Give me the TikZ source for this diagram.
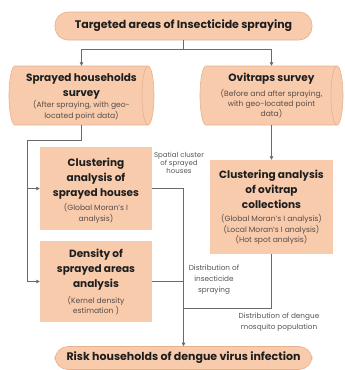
\documentclass[tikz,border=0pt]{standalone}
\usepackage{fontspec}
\setmainfont{Poppins}
\usetikzlibrary{arrows.meta}
\definecolor{peach}{HTML}{F8CBAD}
\definecolor{peachline}{HTML}{E6B08E}
\definecolor{linegray}{HTML}{6A6A6A}
\definecolor{headtxt}{HTML}{1E1E1E}
\definecolor{subtxt}{HTML}{5A4C46}
\definecolor{labtxt}{HTML}{555555}
\newcommand\cylpath[2]{%
  \filldraw[cylst] (#1,66) -- (#2,66) arc[start angle=-90,end angle=90,x radius=6,y radius=29.5]
    -- (#1,125) arc[start angle=90,end angle=270,x radius=6,y radius=29.5] -- cycle;
  \draw[cylst] (#2,66) arc[start angle=-90,end angle=-270,x radius=6,y radius=29.5];
}
\begin{document}
\begin{tikzpicture}[x=1pt,y=-1pt,
  pill/.style={draw=peachline,line width=0.6pt,fill=peach,rounded corners=13pt,inner sep=0},
  box/.style={fill=peach,inner sep=0},
  cylst/.style={draw=peachline,line width=0.6pt,fill=peach},
  anchorbox/.style={inner sep=0},
  conn/.style={draw=linegray,line width=0.8pt},
  arr/.style={conn,-{Triangle[length=3.5pt,width=3.5pt]}},
  pilltxt/.style={font=\fontsize{11}{13}\selectfont\bfseries,text=headtxt,inner sep=0},
  hd/.style={font=\fontsize{10.5}{15}\selectfont\bfseries,text=headtxt,align=center,inner sep=0},
  sub/.style={font=\fontsize{7.6}{10.3}\selectfont,text=subtxt,align=center,inner sep=0},
  lab/.style={font=\fontsize{7}{8}\selectfont,text=labtxt,align=center,inner sep=0},
  labb/.style={font=\fontsize{7.3}{11}\selectfont,text=labtxt,align=center,inner sep=0}]
\useasboundingbox (0,0) rectangle (345,370);
% shapes
\node[pill,minimum width=257pt,minimum height=28pt] (top) at (183.5,26) {};
\node[pill,minimum width=257pt,minimum height=23pt] (bot) at (183.5,358) {};
\cylpath{15}{148}
\cylpath{206}{337}
\node[anchorbox,minimum width=133pt,minimum height=59pt] (L1) at (81.5,95.5) {};
\node[anchorbox,minimum width=131pt,minimum height=59pt] (R1) at (271.5,95.5) {};
\node[box,minimum width=112pt,minimum height=83pt] (clus) at (96,188.5) {};
\node[box,minimum width=112pt,minimum height=81pt] (dens) at (96,281.5) {};
\node[box,minimum width=123pt,minimum height=94pt] (R2) at (271.5,207) {};
% texts
\node[pilltxt] (toptxt) at (top) {Targeted areas of Insecticide spraying};
\node[pilltxt] (bottxt) at (bot) {Risk households of dengue virus infection};
\node[hd] (L1h) at (81.5,87) {Sprayed households\\survey};
\node[sub] (L1s) at (81.5,110.5) {(After spraying, with geo-\\located point data)};
\node[hd] (R1h) at (271.5,79) {Ovitraps survey};
\node[sub] (R1s) at (271.5,103.5) {(Before and after spraying,\\with geo-located point\\data)};
\node[hd] (clush) at (96,179) {Clustering\\analysis of\\sprayed houses};
\node[sub] (cluss) at (96,213.5) {(Global Moran's I\\analysis)};
\node[hd] (R2h) at (271.5,189.5) {Clustering analysis\\of ovitrap\\collections};
\node[sub] (R2s) at (271.5,229.5) {(Global Moran's I analysis)\\(Local Moran's I analysis)\\(Hot spot analysis)};
\node[hd] (densh) at (96,270) {Density of\\sprayed areas\\analysis};
\node[sub] (denss) at (96,305.5) {(Kernel density\\estimation )};
\node[lab] (lab1) at (179,163) {Spatial cluster\\of sprayed\\houses};
\node[labb] (lab2) at (214,279.5) {Distribution of\\insecticide\\spraying};
\node[labb] (lab3) at (279,322.5) {Distribution of dengue\\mosquito population};
% connectors
\coordinate (jn) at (183.5,49);
\draw[conn] (top.south) -- (jn);
\draw[arr] (jn) -| (L1.north);
\draw[arr] (jn) -| (R1.north);
\coordinate (lc) at (27,140);
\draw[conn] (L1.south) |- (lc) -- (lc |- dens.west);
\draw[arr] (lc |- clus.west) -- (clus.west);
\draw[arr] (lc |- dens.west) -- (dens.west);
\draw[arr] (R1.south) -- (R2.north);
\draw[conn] (clus.east) -- (clus.east -| bot.north);
\draw[conn] (dens.east) -- (dens.east -| bot.north);
\draw[arr] (clus.east -| bot.north) -- (bot.north);
\coordinate (mj) at (183.5,308);
\draw[conn] (R2.south) |- (mj);
\end{tikzpicture}
\end{document}
